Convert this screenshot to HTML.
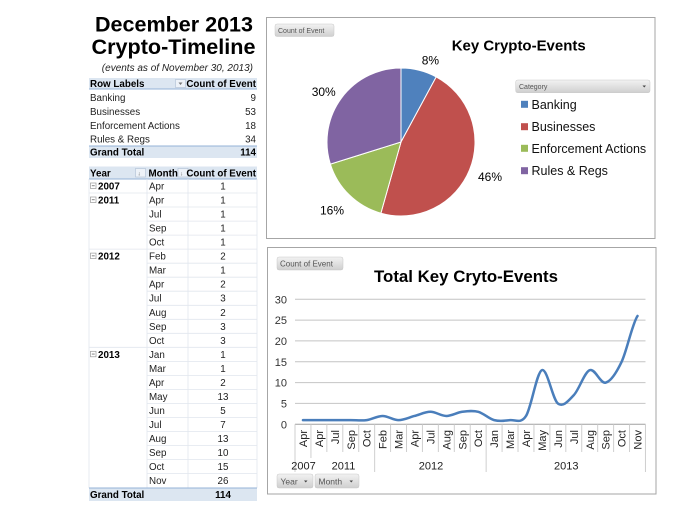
<!DOCTYPE html>
<html><head><meta charset="utf-8"><style>
html,body{margin:0;padding:0;background:#fff;}
svg{display:block;}
text{font-family:"Liberation Sans",sans-serif;}
</style></head><body>
<svg width="675" height="506" viewBox="0 0 675 506" xmlns="http://www.w3.org/2000/svg">
<defs>
<linearGradient id="btn" x1="0" y1="0" x2="0" y2="1"><stop offset="0" stop-color="#f2f2f2"/><stop offset="1" stop-color="#cfcfcf"/></linearGradient>
</defs>
<rect width="675" height="506" fill="#fff"/>

<!-- Titles -->
<text x="174" y="31.7" font-size="21.5" font-weight="bold" text-anchor="middle" fill="#000" textLength="158" lengthAdjust="spacingAndGlyphs">December 2013</text>
<text x="173.5" y="54" font-size="21.5" font-weight="bold" text-anchor="middle" fill="#000" textLength="164" lengthAdjust="spacingAndGlyphs">Crypto-Timeline</text>
<text x="253" y="71" font-size="10" font-style="italic" text-anchor="end" fill="#222">(events as of November 30, 2013)</text>

<!-- Table 1 -->
<rect x="89" y="78" width="168" height="11" fill="#dce6f1"/>
<line x1="89" y1="89" x2="257" y2="89" stroke="#95b3d7" stroke-width="1"/>
<text x="90" y="87" font-size="9.8" font-weight="bold" fill="#000">Row Labels</text>
<rect x="175.5" y="79.5" width="10" height="8" fill="#edf2f8" stroke="#b5c4d8" stroke-width="0.7"/>
<path d="M178.5,82.5 L182.5,82.5 L180.5,85 Z" fill="#777"/>
<text x="256" y="87" font-size="9.8" font-weight="bold" text-anchor="end" fill="#000">Count of Event</text>
<g font-size="9.8" fill="#222">
<text x="90" y="101">Banking</text><text x="256" y="101" text-anchor="end">9</text>
<text x="90" y="115">Businesses</text><text x="256" y="115" text-anchor="end">53</text>
<text x="90" y="128.8">Enforcement Actions</text><text x="256" y="128.8" text-anchor="end">18</text>
<text x="90" y="142.6">Rules &amp; Regs</text><text x="256" y="142.6" text-anchor="end">34</text>
</g>
<rect x="89" y="146" width="168" height="12" fill="#dce6f1"/>
<line x1="89" y1="146" x2="257" y2="146" stroke="#95b3d7" stroke-width="1"/>
<text x="90" y="155.7" font-size="9.8" font-weight="bold" fill="#000">Grand Total</text>
<text x="256" y="155.7" font-size="9.8" font-weight="bold" text-anchor="end" fill="#000">114</text>

<!-- Table 2 -->
<rect x="89" y="166.5" width="168" height="12.5" fill="#dce6f1"/>
<line x1="89" y1="179" x2="257" y2="179" stroke="#95b3d7" stroke-width="1"/>
<text x="90" y="176.5" font-size="9.8" font-weight="bold" fill="#000">Year</text>
<rect x="135.5" y="168.5" width="10" height="8.5" fill="#edf2f8" stroke="#b5c4d8" stroke-width="0.7"/>
<text x="137.5" y="175.5" font-size="6" fill="#666">↓</text>
<text x="148.5" y="176.5" font-size="9.8" font-weight="bold" fill="#000">Month</text>
<rect x="178" y="168.5" width="10" height="8.5" fill="#edf2f8" stroke="#b5c4d8" stroke-width="0.7"/>
<text x="180" y="175.5" font-size="6" fill="#666">↓</text>
<text x="256" y="176.5" font-size="9.8" font-weight="bold" text-anchor="end" fill="#000">Count of Event</text>

<g stroke="#e1e6ee" stroke-width="0.8">
<line x1="147" y1="179" x2="147" y2="488"/>
<line x1="188" y1="179" x2="188" y2="488"/>
<line x1="257" y1="179" x2="257" y2="488"/>
<line x1="89" y1="179" x2="89" y2="488"/>
<line x1="89" y1="193" x2="257" y2="193"/>
<line x1="147" y1="207" x2="257" y2="207"/>
<line x1="147" y1="221.1" x2="257" y2="221.1"/>
<line x1="147" y1="235.1" x2="257" y2="235.1"/>
<line x1="89" y1="249.1" x2="257" y2="249.1"/>
<line x1="147" y1="263.2" x2="257" y2="263.2"/>
<line x1="147" y1="277.2" x2="257" y2="277.2"/>
<line x1="147" y1="291.2" x2="257" y2="291.2"/>
<line x1="147" y1="305.3" x2="257" y2="305.3"/>
<line x1="147" y1="319.3" x2="257" y2="319.3"/>
<line x1="147" y1="333.3" x2="257" y2="333.3"/>
<line x1="89" y1="347.3" x2="257" y2="347.3"/>
<line x1="147" y1="361.4" x2="257" y2="361.4"/>
<line x1="147" y1="375.4" x2="257" y2="375.4"/>
<line x1="147" y1="389.4" x2="257" y2="389.4"/>
<line x1="147" y1="403.5" x2="257" y2="403.5"/>
<line x1="147" y1="417.5" x2="257" y2="417.5"/>
<line x1="147" y1="431.5" x2="257" y2="431.5"/>
<line x1="147" y1="445.6" x2="257" y2="445.6"/>
<line x1="147" y1="459.6" x2="257" y2="459.6"/>
<line x1="147" y1="473.6" x2="257" y2="473.6"/>
</g>

<!-- year group markers -->
<g stroke="#999" stroke-width="0.7" fill="#fff">
<rect x="90.5" y="183" width="5.5" height="5.5"/>
<rect x="90.5" y="197" width="5.5" height="5.5"/>
<rect x="90.5" y="253.1" width="5.5" height="5.5"/>
<rect x="90.5" y="351.3" width="5.5" height="5.5"/>
</g>
<g stroke="#666" stroke-width="0.8">
<line x1="91.8" y1="185.75" x2="94.7" y2="185.75"/>
<line x1="91.8" y1="199.75" x2="94.7" y2="199.75"/>
<line x1="91.8" y1="255.85" x2="94.7" y2="255.85"/>
<line x1="91.8" y1="354.05" x2="94.7" y2="354.05"/>
</g>
<g font-size="9.8" font-weight="bold" fill="#000">
<text x="98" y="189.5">2007</text>
<text x="98" y="203.5">2011</text>
<text x="98" y="259.7">2012</text>
<text x="98" y="357.9">2013</text>
</g>
<g font-size="9.8" fill="#222">
<text x="149" y="189.5">Apr</text>
<text x="149" y="203.5">Apr</text>
<text x="149" y="217.6">Jul</text>
<text x="149" y="231.6">Sep</text>
<text x="149" y="245.6">Oct</text>
<text x="149" y="259.7">Feb</text>
<text x="149" y="273.7">Mar</text>
<text x="149" y="287.7">Apr</text>
<text x="149" y="301.7">Jul</text>
<text x="149" y="315.8">Aug</text>
<text x="149" y="329.8">Sep</text>
<text x="149" y="343.8">Oct</text>
<text x="149" y="357.9">Jan</text>
<text x="149" y="371.9">Mar</text>
<text x="149" y="385.9">Apr</text>
<text x="149" y="400">May</text>
<text x="149" y="414">Jun</text>
<text x="149" y="428">Jul</text>
<text x="149" y="442.1">Aug</text>
<text x="149" y="456.1">Sep</text>
<text x="149" y="470.1">Oct</text>
<text x="149" y="484.1">Nov</text>
</g>
<g font-size="9.8" fill="#222" text-anchor="middle">
<text x="223" y="189.5">1</text>
<text x="223" y="203.5">1</text>
<text x="223" y="217.6">1</text>
<text x="223" y="231.6">1</text>
<text x="223" y="245.6">1</text>
<text x="223" y="259.7">2</text>
<text x="223" y="273.7">1</text>
<text x="223" y="287.7">2</text>
<text x="223" y="301.7">3</text>
<text x="223" y="315.8">2</text>
<text x="223" y="329.8">3</text>
<text x="223" y="343.8">3</text>
<text x="223" y="357.9">1</text>
<text x="223" y="371.9">1</text>
<text x="223" y="385.9">2</text>
<text x="223" y="400">13</text>
<text x="223" y="414">5</text>
<text x="223" y="428">7</text>
<text x="223" y="442.1">13</text>
<text x="223" y="456.1">10</text>
<text x="223" y="470.1">15</text>
<text x="223" y="484.1">26</text>
</g>
<rect x="89" y="488" width="168" height="13" fill="#dce6f1"/>
<line x1="89" y1="488" x2="257" y2="488" stroke="#95b3d7" stroke-width="1"/>
<text x="90" y="497.8" font-size="9.8" font-weight="bold" fill="#000">Grand Total</text>
<text x="223" y="497.8" font-size="9.8" font-weight="bold" text-anchor="middle" fill="#000">114</text>

<!-- Pie chart box -->
<rect x="266.5" y="17.5" width="388.5" height="221" fill="#fff" stroke="#a6a6a6" stroke-width="1"/>
<rect x="275" y="24" width="59" height="12.5" rx="2" fill="url(#btn)" stroke="#c8c8c8" stroke-width="0.5"/>
<text x="278" y="33" font-size="7" fill="#555">Count of Event</text>
<text x="451.7" y="50.7" font-size="15" font-weight="bold" fill="#000" textLength="134" lengthAdjust="spacingAndGlyphs">Key Crypto-Events</text>

<g stroke="#fff" stroke-width="1">
<path d="M401,142 L401,68 A74,74 0 0 1 436.22,76.92 Z" fill="#4f81bd"/>
<path d="M401,142 L436.22,76.92 A74,74 0 0 1 380.86,213.21 Z" fill="#c0504d"/>
<path d="M401,142 L380.86,213.21 A74,74 0 0 1 330.37,164.09 Z" fill="#9bbb59"/>
<path d="M401,142 L330.37,164.09 A74,74 0 0 1 401,68 Z" fill="#8064a2"/>
</g>
<g font-size="12" fill="#000">
<text x="421.7" y="64.5">8%</text>
<text x="311.7" y="96">30%</text>
<text x="478" y="181">46%</text>
<text x="320" y="214.5">16%</text>
</g>
<rect x="515.7" y="80" width="134.3" height="12.7" rx="2" fill="url(#btn)" stroke="#c8c8c8" stroke-width="0.5"/>
<text x="519" y="89" font-size="7" fill="#555">Category</text>
<path d="M642.5,85.5 L646,85.5 L644.25,87.5 Z" fill="#444"/>
<rect x="521" y="100.8" width="7" height="7" fill="#4f81bd"/>
<rect x="521" y="123.2" width="7" height="7" fill="#c0504d"/>
<rect x="521" y="144.8" width="7" height="7" fill="#9bbb59"/>
<rect x="521" y="167.2" width="7" height="7" fill="#8064a2"/>
<g font-size="12.5" fill="#111">
<text x="531.5" y="108.8">Banking</text>
<text x="531.5" y="131.2">Businesses</text>
<text x="531.5" y="152.8">Enforcement Actions</text>
<text x="531.5" y="175.2">Rules &amp; Regs</text>
</g>

<!-- Line chart box -->
<rect x="267.5" y="247.5" width="388.5" height="246.5" fill="#fff" stroke="#a6a6a6" stroke-width="1"/>
<rect x="277" y="257" width="66" height="13" rx="2" fill="url(#btn)" stroke="#c8c8c8" stroke-width="0.5"/>
<text x="280" y="266.5" font-size="8" fill="#555">Count of Event</text>
<text x="374" y="282" font-size="16.7" font-weight="bold" fill="#000" textLength="184" lengthAdjust="spacingAndGlyphs">Total Key Cryto-Events</text>

<g stroke="#c4c4c4" stroke-width="1">
<line x1="295" y1="299.3" x2="645.5" y2="299.3"/>
<line x1="295" y1="320.1" x2="645.5" y2="320.1"/>
<line x1="295" y1="340.9" x2="645.5" y2="340.9"/>
<line x1="295" y1="361.8" x2="645.5" y2="361.8"/>
<line x1="295" y1="382.6" x2="645.5" y2="382.6"/>
<line x1="295" y1="403.4" x2="645.5" y2="403.4"/>
</g>
<line x1="295" y1="424.3" x2="645.5" y2="424.3" stroke="#a0a0a0" stroke-width="1"/>
<g font-size="11" fill="#333" text-anchor="end">
<text x="287" y="303.3">30</text>
<text x="287" y="324.1">25</text>
<text x="287" y="344.9">20</text>
<text x="287" y="365.8">15</text>
<text x="287" y="386.6">10</text>
<text x="287" y="407.4">5</text>
<text x="287" y="428.3">0</text>
</g>
<g stroke="#cfcfcf" stroke-width="1">
<path d="M295,424.3V472 M310.93,424.3V458 M326.86,424.3V452 M342.79,424.3V452 M358.72,424.3V452 M374.65,424.3V472 M390.58,424.3V452 M406.51,424.3V452 M422.44,424.3V452 M438.37,424.3V452 M454.3,424.3V452 M470.23,424.3V452 M486.16,424.3V472 M502.09,424.3V452 M518.02,424.3V452 M533.95,424.3V452 M549.88,424.3V452 M565.81,424.3V452 M581.74,424.3V452 M597.67,424.3V452 M613.6,424.3V452 M629.53,424.3V452 M645.46,424.3V472"/>
</g>
<g font-size="11" fill="#222" text-anchor="end">
<text transform="translate(306.97,430) rotate(-90)">Apr</text>
<text transform="translate(322.9,430) rotate(-90)">Apr</text>
<text transform="translate(338.84,430) rotate(-90)">Jul</text>
<text transform="translate(354.77,430) rotate(-90)">Sep</text>
<text transform="translate(370.7,430) rotate(-90)">Oct</text>
<text transform="translate(386.63,430) rotate(-90)">Feb</text>
<text transform="translate(402.56,430) rotate(-90)">Mar</text>
<text transform="translate(418.5,430) rotate(-90)">Apr</text>
<text transform="translate(434.43,430) rotate(-90)">Jul</text>
<text transform="translate(450.36,430) rotate(-90)">Aug</text>
<text transform="translate(466.3,430) rotate(-90)">Sep</text>
<text transform="translate(482.23,430) rotate(-90)">Oct</text>
<text transform="translate(498.16,430) rotate(-90)">Jan</text>
<text transform="translate(514.09,430) rotate(-90)">Mar</text>
<text transform="translate(530.02,430) rotate(-90)">Apr</text>
<text transform="translate(545.95,430) rotate(-90)">May</text>
<text transform="translate(561.89,430) rotate(-90)">Jun</text>
<text transform="translate(577.82,430) rotate(-90)">Jul</text>
<text transform="translate(593.75,430) rotate(-90)">Aug</text>
<text transform="translate(609.68,430) rotate(-90)">Sep</text>
<text transform="translate(625.61,430) rotate(-90)">Oct</text>
<text transform="translate(641.55,430) rotate(-90)">Nov</text>
</g>
<g font-size="11" fill="#222" text-anchor="middle">
<text x="303.5" y="469.5">2007</text>
<text x="343.5" y="469.5">2011</text>
<text x="431" y="469.5">2012</text>
<text x="566.3" y="469.5">2013</text>
</g>

<path fill="none" stroke="#4a7ebb" stroke-width="2.5" stroke-linejoin="round" stroke-linecap="round" d="M302.97,420.13 C308.28,420.13 313.59,420.13 318.90,420.13 C324.21,420.13 329.53,420.13 334.84,420.13 C340.15,420.13 345.46,420.13 350.77,420.13 C356.08,420.13 361.39,420.82 366.70,420.13 C372.01,419.44 377.32,415.97 382.63,415.97 C387.94,415.97 393.25,420.13 398.56,420.13 C403.87,420.13 409.19,417.36 414.50,415.97 C419.81,414.58 425.12,411.80 430.43,411.80 C435.74,411.80 441.05,415.97 446.36,415.97 C451.67,415.97 456.99,412.49 462.30,411.80 C467.61,411.11 472.92,410.41 478.23,411.80 C483.54,413.19 488.85,418.74 494.16,420.13 C499.47,421.52 504.78,420.82 510.09,420.13 C515.40,419.44 520.71,424.30 526.02,415.97 C531.33,407.64 536.64,372.21 541.95,370.13 C547.26,368.05 552.58,399.30 557.89,403.47 C563.20,407.64 568.51,400.69 573.82,395.13 C579.13,389.57 584.44,372.21 589.75,370.13 C595.06,368.05 600.37,384.02 605.68,382.63 C610.99,381.24 616.30,372.91 621.61,361.80 C626.92,350.69 632.24,323.61 637.55,315.97"/>

<rect x="277" y="474" width="36" height="14" rx="2" fill="url(#btn)" stroke="#c8c8c8" stroke-width="0.5"/>
<text x="280.5" y="484.3" font-size="8.5" fill="#555">Year</text>
<path d="M304,480.5 L307.5,480.5 L305.75,482.5 Z" fill="#444"/>
<rect x="315" y="474" width="44" height="14" rx="2" fill="url(#btn)" stroke="#c8c8c8" stroke-width="0.5"/>
<text x="318.5" y="484.3" font-size="8.5" fill="#555">Month</text>
<path d="M349.5,480.5 L353,480.5 L351.25,482.5 Z" fill="#444"/>
</svg>
</body></html>
